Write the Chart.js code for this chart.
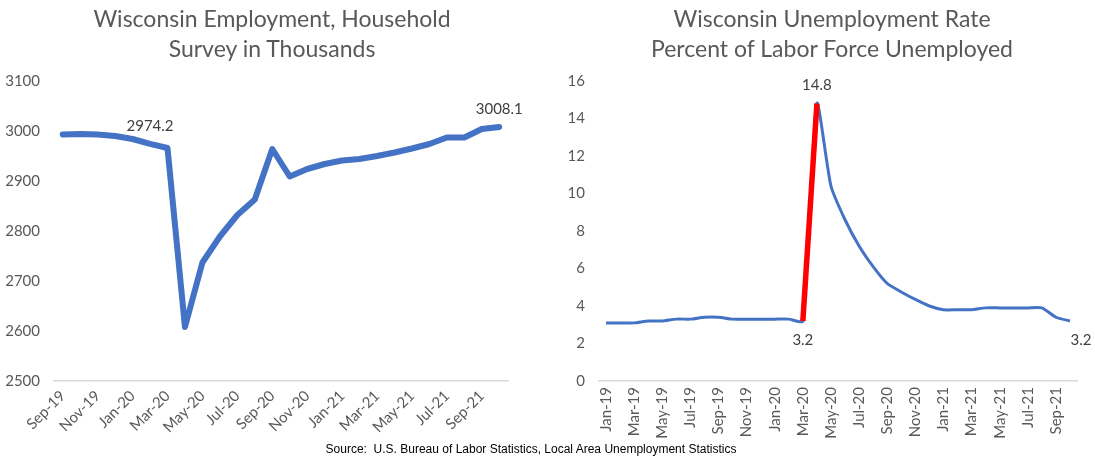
<!DOCTYPE html>
<html>
<head>
<meta charset="utf-8">
<script src="https://cdn.jsdelivr.net/npm/chart.js@4/dist/chart.umd.min.js"></script>
<style>
  html, body { margin: 0; padding: 0; background: #fff; }
  body { width: 1095px; height: 458px; position: relative; overflow: hidden; font-family: Lato, sans-serif; }
  .title { position: absolute; top: 3px; text-align: center; color: #595959; font-size: 23px; line-height: 30px; }
  .box { position: absolute; top: 0; height: 458px; }
  #src { position: absolute; left: 0; width: 1062px; top: 442px; text-align: center; font: 12px 'Liberation Sans', Arial, sans-serif; color: #000; }
</style>
</head>
<body>
<div class="box" style="left:0;width:545px"><canvas id="emp"></canvas></div>
<div class="box" style="left:545px;width:550px"><canvas id="unemp"></canvas></div>
<div class="title" style="left:72px;width:400px">Wisconsin Employment, Household<br>Survey in Thousands</div>
<div class="title" style="left:632px;width:400px">Wisconsin Unemployment Rate<br>Percent of Labor Force Unemployed</div>
<div id="src">Source:&nbsp; U.S. Bureau of Labor Statistics, Local Area Unemployment Statistics</div>
<script>
// Employment, household survey (thousands), Sep-19 .. Oct-21
const empMonths = ['Sep-19','Oct-19','Nov-19','Dec-19','Jan-20','Feb-20','Mar-20','Apr-20','May-20','Jun-20','Jul-20','Aug-20',
  'Sep-20','Oct-20','Nov-20','Dec-20','Jan-21','Feb-21','Mar-21','Apr-21','May-21','Jun-21','Jul-21','Aug-21','Sep-21','Oct-21'];
const empValues = [2993, 2994, 2993, 2990, 2984, 2974.2, 2966, 2608, 2737, 2789, 2832, 2863,
  2964, 2909, 2924, 2934, 2941, 2944, 2950, 2957, 2965, 2974, 2987, 2987, 3004, 3008.1];
const empLabels = { 5: '2974.2', 25: '3008.1' };
const empTicks = [2500, 2600, 2700, 2800, 2900, 3000, 3100];

// Unemployment rate (%), Jan-19 .. Oct-21
const urMonths = ['Jan-19','Feb-19','Mar-19','Apr-19','May-19','Jun-19','Jul-19','Aug-19','Sep-19','Oct-19','Nov-19','Dec-19',
  'Jan-20','Feb-20','Mar-20','Apr-20','May-20','Jun-20','Jul-20','Aug-20','Sep-20','Oct-20','Nov-20','Dec-20',
  'Jan-21','Feb-21','Mar-21','Apr-21','May-21','Jun-21','Jul-21','Aug-21','Sep-21','Oct-21'];
const urValues = [3.1, 3.1, 3.1, 3.2, 3.2, 3.3, 3.3, 3.4, 3.4, 3.3, 3.3, 3.3,
  3.3, 3.3, 3.2, 14.8, 10.4, 8.6, 7.2, 6.1, 5.2, 4.75, 4.35, 4.0,
  3.8, 3.8, 3.8, 3.9, 3.9, 3.9, 3.9, 3.9, 3.4, 3.2];
const urSpike = [14, 15];           // Mar-20 -> Apr-20, drawn in red
const urLabels = { 14: ['3.2', 'below'], 15: ['14.8', 'above'], 33: ['3.2', 'belowRight'] };
const urTicks = [0, 2, 4, 6, 8, 10, 12, 14, 16];

(function () {
  'use strict';
  const BLUE = '#4472C4', RED = '#FF0000', TICK = '#595959', LAB = '#404040', BASE = '#d9d9d9';
  const FONT = 'Lato';

  // Labels above/below points, placed via the chart's own scales
  const pointLabels = {
    id: 'pointLabels',
    afterDatasetsDraw(chart, args, opts) {
      const meta = chart.getDatasetMeta(0), ctx = chart.ctx;
      ctx.save();
      ctx.font = '15px ' + FONT; ctx.fillStyle = LAB; ctx.textBaseline = 'middle'; ctx.textAlign = 'center';
      Object.entries(opts.labels || {}).forEach(([i, v]) => {
        const p = meta.data[+i]; if (!p) return;
        const [txt, pos] = Array.isArray(v) ? v : [v, 'above'];
        let x = p.x, y = p.y - 18;
        if (pos === 'below') y = p.y + 19;
        if (pos === 'belowRight') { y = p.y + 19; x = p.x + 11; }
        ctx.fillText(txt, x, y);
      });
      ctx.restore();
    },
  };

  const yAxis = (ticks, w) => ({
    min: ticks[0], max: ticks[ticks.length - 1],
    afterBuildTicks: (a) => { a.ticks = ticks.map((v) => ({ value: v })); },
    afterFit: (s) => { s.width = w; },
    grid: { display: false, drawTicks: false }, border: { display: false },
    ticks: { color: TICK, padding: 14, font: { family: FONT, size: 15 }, callback: (v) => String(v) },
  });
  const xAxis = (rot, h) => ({
    offset: true,
    afterFit: (s) => { s.height = h; },
    grid: { display: false, drawTicks: false }, border: { display: true, color: BASE, width: 1.5 },
    ticks: { color: TICK, padding: 6, autoSkip: false, minRotation: rot, maxRotation: rot, font: { family: FONT, size: 15 },
      callback: function (v, i) { return i % 2 === 0 ? this.getLabelForValue(v) : ''; } },
  });
  const base = (pad, labels, scales) => ({
    responsive: true, maintainAspectRatio: false, animation: false,
    layout: { padding: pad },
    plugins: { legend: { display: false }, tooltip: { enabled: false }, pointLabels: { labels } },
    scales,
  });

  new Chart(document.getElementById('emp'), {
    type: 'line',
    data: { labels: empMonths, datasets: [
      { data: empValues, borderColor: BLUE, borderWidth: 6, pointRadius: 0, tension: 0, borderCapStyle: 'round', borderJoinStyle: 'round' },
    ] },
    options: base({ left: 0, top: 81, right: 37, bottom: 0 }, empLabels,
      { x: xAxis(45, 77), y: yAxis(empTicks, 54) }),
    plugins: [pointLabels],
  });

  new Chart(document.getElementById('unemp'), {
    type: 'line',
    data: { labels: urMonths, datasets: [
      { data: urValues, borderColor: BLUE, borderWidth: 3, pointRadius: 0, tension: 0.2, order: 2 },
      { data: urValues.map((v, i) => (urSpike.includes(i) ? v : null)), borderColor: RED, borderWidth: 5.5, pointRadius: 0, tension: 0, order: 1 },
    ] },
    options: base({ left: 0, top: 81, right: 18, bottom: 0 }, urLabels,
      { x: xAxis(90, 77), y: yAxis(urTicks, 54) }),
    plugins: [pointLabels],
  });
})();
</script>
</body>
</html>
